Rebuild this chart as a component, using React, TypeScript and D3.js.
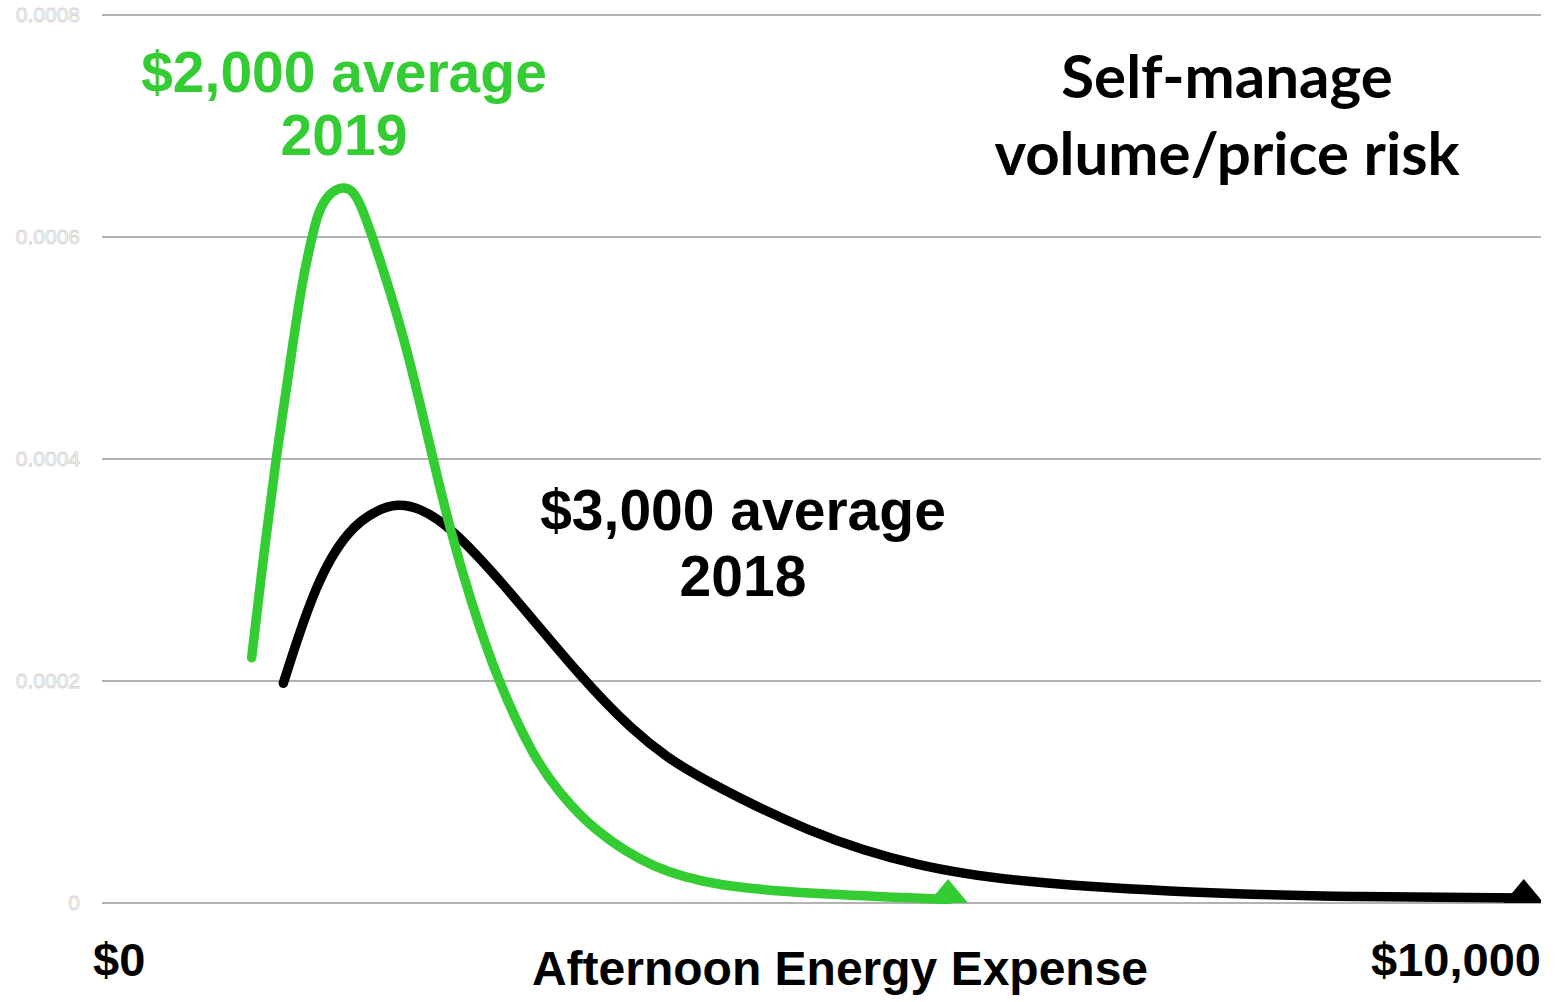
import { useEffect } from "react";
import * as d3 from "d3";

// expense in dollars, density values
const x2019: number[] = [1040, 1130, 1210, 1290, 1390, 1460, 1500, 1570, 1640, 1710, 1780, 1880, 1980, 2120, 2300, 2420, 2560, 2750, 3000, 3180, 3410, 3830, 4300, 4850, 5800, 5880];
const y2019: number[] = [0.000221, 0.000321, 0.000401, 0.000471, 0.000561, 0.0006, 0.000622, 0.000638, 0.000644, 0.000645, 0.000636, 0.0006, 0.00056, 0.0005, 0.0004, 0.000336, 0.000273, 0.0002, 0.000131, 0.000099, 0.000066, 0.00003, 0.000015, 0.000009, 0.0000036, 0.000003];

const x2018: number[] = [1260, 1490, 1720, 1910, 2050, 2210, 2420, 2770, 3340, 3700, 3930, 4150, 4910, 5670, 6430, 7570, 8710, 9880];
const y2018: number[] = [0.000198, 0.000291, 0.000338, 0.000354, 0.00036, 0.000356, 0.000339, 0.000291, 0.000201, 0.000154, 0.000131, 0.000113, 0.000063, 0.000032, 0.000018, 0.000009, 0.0000054, 0.0000045];

const yTicks: number[] = [0, 0.0002, 0.0004, 0.0006, 0.0008];
const yTickLabels: string[] = ["0", "0.0002", "0.0004", "0.0006", "0.0008"];

const GREEN = "#33cc33";

export default function App() {
  useEffect(() => {
    document.body.style.margin = "0";
  }, []);

  const width = 1556;
  const height = 1002;
  const margin = { top: 15, left: 102, right: 15, bottom: 99 };

  const x = d3.scaleLinear().domain([0, 10000]).range([margin.left, width - margin.right]);
  const y = d3.scaleLinear().domain([0, 0.0008]).range([height - margin.bottom, margin.top]);

  const line = d3
    .line<[number, number]>()
    .x((d) => x(d[0]))
    .y((d) => y(d[1]))
    .curve(d3.curveBasis);

  const green = x2019.map((v, i) => [v, y2019[i]] as [number, number]);
  const black = x2018.map((v, i) => [v, y2018[i]] as [number, number]);

  // triangle marker sitting on the baseline at the end of each curve
  const tri = (xv: number) => {
    const cx = x(xv);
    const b = y(0);
    return `M${cx - 20},${b}L${cx},${b - 24}L${cx + 20},${b}Z`;
  };

  const bold = "'Liberation Sans', Arial, sans-serif";

  return (
    <svg width={width} height={height} style={{ display: "block", background: "#fff" }}>
      <defs>
        <clipPath id="plot">
          <rect x={margin.left} y={0} width={x(10000) - margin.left} height={y(0) + 1} />
        </clipPath>
      </defs>

      {/* grid + y tick labels */}
      {yTicks.map((t, i) => (
        <g key={t}>
          <line x1={x(0)} x2={x(10000)} y1={y(t)} y2={y(t)} stroke="#999" strokeWidth={1.5} />
          <text
            x={80}
            y={y(t)}
            dy="0.35em"
            textAnchor="end"
            fontFamily={bold}
            fontSize={21}
            fill="#fff"
            stroke="#d4d4d4"
            strokeWidth={0.9}
          >
            {yTickLabels[i]}
          </text>
        </g>
      ))}

      <g clipPath="url(#plot)">
        <path d={line(black)!} fill="none" stroke="#000" strokeWidth={9.5} strokeLinecap="round" strokeLinejoin="round" />
        <path d={tri(x2018[x2018.length - 1])} fill="#000" />
        <path d={line(green)!} fill="none" stroke={GREEN} strokeWidth={9.5} strokeLinecap="round" strokeLinejoin="round" />
        <path d={tri(x2019[x2019.length - 1])} fill={GREEN} />
      </g>

      {/* annotations */}
      <g fontFamily={bold} fontWeight="bold" fontSize={57} textAnchor="middle">
        <text x={344} y={92} fill={GREEN}>$2,000 average</text>
        <text x={344} y={155} fill={GREEN}>2019</text>
        <text x={743} y={530} fill="#000">$3,000 average</text>
        <text x={743} y={596} fill="#000">2018</text>
      </g>

      <g fontFamily="Lato, 'Open Sans', sans-serif" fontWeight="bold" fontSize={60} textAnchor="middle" fill="#000">
        <text x={1227} y={98}>Self-manage</text>
        <text x={1227} y={175}>volume/price risk</text>
      </g>

      {/* x axis labels */}
      <g fontFamily={bold} fontWeight="bold" fill="#000">
        <text x={93} y={976} fontSize={47}>$0</text>
        <text x={1541} y={976} fontSize={47} textAnchor="end">$10,000</text>
        <text x={840} y={985} fontSize={48} textAnchor="middle">Afternoon Energy Expense</text>
      </g>
    </svg>
  );
}
